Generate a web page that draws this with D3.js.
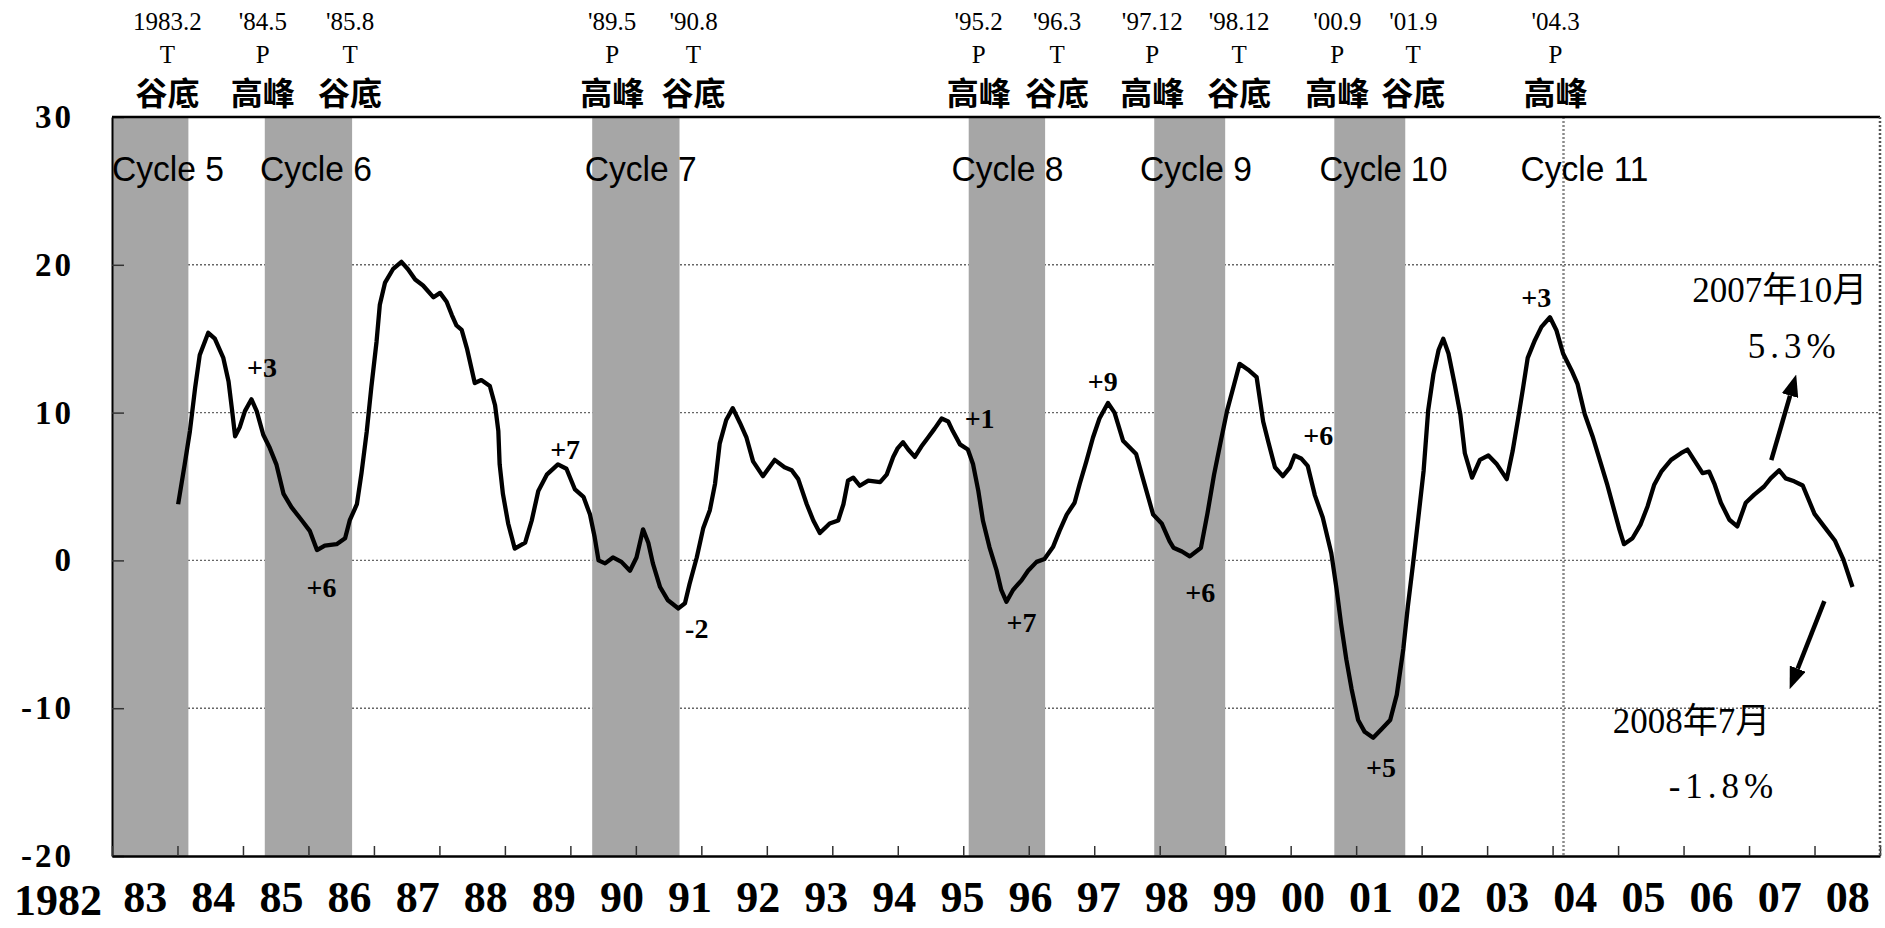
<!DOCTYPE html>
<html>
<head>
<meta charset="utf-8">
<script src="https://cdn.jsdelivr.net/npm/d3@7"></script>
<style>
  body { margin: 0; background: #fff; }
  svg { display: block; }
</style>
</head>
<body>
<svg id="container" width="1885" height="928"></svg>
<script>
'use strict';

// growth rate (%), time in decimal years
const obsTime = [
  1983.01, 1983.11, 1983.19, 1983.27, 1983.34, 1983.47, 1983.57, 1983.70, 1983.78, 1983.83,
  1983.88, 1983.95, 1984.03, 1984.13, 1984.21, 1984.31, 1984.41, 1984.51, 1984.62, 1984.74,
  1984.90, 1985.02, 1985.13, 1985.25, 1985.43, 1985.56, 1985.63, 1985.74, 1985.81, 1985.89,
  1985.96, 1986.04, 1986.09, 1986.17, 1986.29, 1986.42, 1986.52, 1986.63, 1986.75, 1986.91,
  1987.01, 1987.11, 1987.19, 1987.26, 1987.34, 1987.42, 1987.54, 1987.64, 1987.77, 1987.85,
  1987.90, 1987.92, 1987.97, 1988.05, 1988.15, 1988.31, 1988.41, 1988.51, 1988.64, 1988.81,
  1988.94, 1989.07, 1989.20, 1989.30, 1989.37, 1989.43, 1989.53, 1989.65, 1989.78, 1989.91,
  1990.01, 1990.11, 1990.19, 1990.26, 1990.37, 1990.49, 1990.65, 1990.75, 1990.82, 1990.93,
  1991.03, 1991.13, 1991.21, 1991.28, 1991.38, 1991.48, 1991.59, 1991.69, 1991.79, 1991.94,
  1992.12, 1992.27, 1992.38, 1992.48, 1992.61, 1992.71, 1992.81, 1992.96, 1993.09, 1993.17,
  1993.24, 1993.32, 1993.42, 1993.55, 1993.73, 1993.83, 1993.93, 1994.00, 1994.08, 1994.16,
  1994.26, 1994.36, 1994.46, 1994.56, 1994.67, 1994.77, 1994.84, 1994.95, 1995.07, 1995.15,
  1995.23, 1995.30, 1995.40, 1995.51, 1995.58, 1995.66, 1995.76, 1995.89, 1995.99, 1996.12,
  1996.24, 1996.37, 1996.47, 1996.58, 1996.70, 1996.78, 1996.88, 1996.98, 1997.08, 1997.21,
  1997.31, 1997.44, 1997.64, 1997.74, 1997.90, 1998.03, 1998.15, 1998.21, 1998.34, 1998.46,
  1998.63, 1998.73, 1998.83, 1998.93, 1999.03, 1999.13, 1999.22, 1999.35, 1999.48, 1999.58,
  1999.66, 1999.76, 1999.88, 1999.99, 2000.06, 2000.16, 2000.26, 2000.37, 2000.49, 2000.62,
  2000.70, 2000.77, 2000.85, 2000.93, 2001.03, 2001.13, 2001.26, 2001.39, 2001.52, 2001.62,
  2001.72, 2001.79, 2001.87, 2001.95, 2002.03, 2002.10, 2002.18, 2002.26, 2002.33, 2002.41,
  2002.51, 2002.59, 2002.66, 2002.77, 2002.89, 2003.02, 2003.15, 2003.30, 2003.39, 2003.47,
  2003.55, 2003.62, 2003.73, 2003.83, 2003.96, 2004.06, 2004.16, 2004.29, 2004.38, 2004.49,
  2004.61, 2004.72, 2004.83, 2004.94, 2005.02, 2005.09, 2005.22, 2005.34, 2005.45, 2005.55,
  2005.66, 2005.81, 2005.96, 2006.06, 2006.16, 2006.29, 2006.39, 2006.47, 2006.57, 2006.70,
  2006.82, 2006.95, 2007.08, 2007.23, 2007.33, 2007.46, 2007.56, 2007.69, 2007.82, 2008.00,
  2008.18, 2008.31, 2008.44, 2008.58
];
const growth = [
  3.8, 6.5, 8.75, 11.7, 13.9, 15.4, 15.0, 13.7, 12.1, 10.3,
  8.4, 9.0, 10.1, 10.9, 10.1, 8.5, 7.6, 6.5, 4.5, 3.6,
  2.7, 2.0, 0.7, 1.0, 1.1, 1.5, 2.7, 3.8, 5.9, 8.7,
  11.7, 14.8, 17.3, 18.8, 19.7, 20.2, 19.7, 19.0, 18.6, 17.8,
  18.1, 17.5, 16.6, 15.9, 15.6, 14.35, 12.0, 12.2, 11.8, 10.5,
  8.75, 6.5, 4.5, 2.5, 0.8, 1.2, 2.7, 4.7, 5.8, 6.5,
  6.2, 4.8, 4.3, 3.1, 1.6, 0.0, -0.2, 0.2, -0.1, -0.7,
  0.2, 2.1, 1.2, -0.2, -1.8, -2.7, -3.25, -2.9, -1.6, 0.2,
  2.2, 3.4, 5.2, 7.9, 9.5, 10.3, 9.3, 8.3, 6.7, 5.7,
  6.8, 6.3, 6.1, 5.5, 3.8, 2.7, 1.85, 2.5, 2.7, 3.8,
  5.4, 5.6, 5.05, 5.4, 5.3, 5.8, 7.0, 7.6, 8.0, 7.5,
  7.0, 7.7, 8.3, 8.9, 9.6, 9.4, 8.75, 7.85, 7.5, 6.5,
  4.7, 2.7, 0.9, -0.7, -2.0, -2.8, -2.0, -1.35, -0.7, -0.1,
  0.1, 0.9, 2.0, 3.1, 3.9, 5.2, 6.7, 8.3, 9.6, 10.65,
  10.0, 8.1, 7.2, 5.6, 3.1, 2.5, 1.3, 0.86, 0.6, 0.27,
  0.86, 3.2, 5.8, 8.0, 10.15, 11.8, 13.3, 12.9, 12.4, 9.4,
  8.0, 6.3, 5.7, 6.3, 7.1, 6.9, 6.4, 4.4, 2.9, 0.5,
  -1.9, -4.3, -6.7, -8.7, -10.8, -11.6, -12.0, -11.4, -10.8, -9.1,
  -6.0, -3.1, -0.2, 2.9, 6.05, 10.15, 12.6, 14.25, 15.0, 14.0,
  11.8, 9.9, 7.25, 5.6, 6.8, 7.1, 6.5, 5.5, 7.4, 9.5,
  11.7, 13.7, 14.9, 15.8, 16.45, 15.55, 14.0, 12.85, 11.95, 9.9,
  8.4, 6.8, 5.2, 3.4, 2.1, 1.1, 1.5, 2.4, 3.65, 5.1,
  6.0, 6.8, 7.25, 7.5, 6.8, 5.9, 6.0, 5.2, 3.9, 2.75,
  2.3, 3.9, 4.45, 5.0, 5.55, 6.1, 5.55, 5.35, 5.07, 3.15,
  2.1, 1.35, 0.07, -1.8
];

// turning points of the reference cycle
const turnLabels = ['1983.2', '\'84.5', '\'85.8', '\'89.5', '\'90.8', '\'95.2', '\'96.3', '\'97.12', '\'98.12', '\'00.9', '\'01.9', '\'04.3'];
const turnYears = [1983, 1984, 1985, 1989, 1990, 1995, 1996, 1997, 1998, 2000, 2001, 2004];
const turnMonths = [2, 5, 8, 5, 8, 2, 3, 12, 12, 9, 9, 3];
const turnTypes = ['T', 'P', 'T', 'P', 'T', 'P', 'T', 'P', 'T', 'P', 'T', 'P'];
const typeNames = {T: '谷底', P: '高峰'};

// cycle names and where their label starts
const cycleNames = ['Cycle 5', 'Cycle 6', 'Cycle 7', 'Cycle 8', 'Cycle 9', 'Cycle 10', 'Cycle 11'];
const cycleStarts = [1982.0, 1984.26, 1989.22, 1994.82, 1997.70, 2000.44, 2003.51];

// lead (months) written next to the turns of the line
const leadTexts = ['+3', '+6', '+7', '-2', '+1', '+7', '+9', '+6', '+6', '+5', '+3'];
const leadTimes = [1984.29, 1985.20, 1988.92, 1990.93, 1995.25, 1995.89, 1997.13, 1998.62, 2000.42, 2001.38, 2003.75];
const leadValues = [13.05, -1.8, 7.5, -4.6, 9.6, -4.2, 12.1, -2.15, 8.46, -14.0, 17.8];

// callouts at the right end
const noteTexts = ['2007年10月', '5.3%', '2008年7月', '-1.8%'];
const noteTimes = [2007.47, 2007.69, 2006.12, 2006.61];
const noteValues = [18.25, 14.5, -10.9, -15.3];
const arrowTimes = [[2007.34, 2007.72], [2008.15, 2007.62]];
const arrowValues = [[6.78, 12.58], [-2.76, -8.71]];

// axes
const yTicks = [-20, -10, 0, 10, 20, 30];
const gridValues = [-10, 0, 10, 20];
const yearTicks = d3.range(1982, 2010);
const yearLabels = ['1982', '83', '84', '85', '86', '87', '88', '89', '90', '91', '92', '93', '94',
  '95', '96', '97', '98', '99', '00', '01', '02', '03', '04', '05', '06', '07', '08'];

const svg = d3.select('#container');
const width = +svg.attr('width');
const height = +svg.attr('height');
const margin = {top: 117, right: 5, bottom: 72, left: 112};

const x = d3.scaleLinear().domain([1982, 2009]).range([margin.left, width - margin.right]);
const y = d3.scaleLinear().domain([-20, 30]).range([height - margin.bottom, margin.top]);
const [x0, x1] = x.range();
const [y0, y1] = y.range();

const SERIF = '"Liberation Serif", "Times New Roman", serif';
const MINCHO = '"Liberation Serif", "Noto Sans CJK JP", serif';

// peak: start of month, trough: end of month
const turnTime = (i) => turnYears[i] + (turnTypes[i] === 'P' ? turnMonths[i] - 1 : turnMonths[i]) / 12;

// recession bands: peak -> trough (first one from the left edge)
const bands = [];
const openPeaks = [];
let start = x.domain()[0];
turnTypes.forEach((type, i) => {
  if (type === 'P') {
    start = turnTime(i);
    openPeaks.push(i);
  } else {
    bands.push([start, turnTime(i)]);
    openPeaks.pop();
  }
});

// grid
svg.append('g')
  .selectAll('line')
  .data(gridValues)
  .enter()
  .append('line')
  .attr('x1', x0)
  .attr('x2', x1)
  .attr('y1', d => y(d))
  .attr('y2', d => y(d))
  .attr('stroke', '#666')
  .attr('stroke-width', 1.4)
  .attr('stroke-dasharray', '2,2');

// grey bands
svg.append('g')
  .selectAll('rect')
  .data(bands)
  .enter()
  .append('rect')
  .attr('x', d => x(d[0]))
  .attr('width', d => x(d[1]) - x(d[0]))
  .attr('y', y1)
  .attr('height', y0 - y1)
  .attr('fill', '#a6a6a6');

// peak without a trough yet: dotted line
svg.append('g')
  .selectAll('line')
  .data(openPeaks)
  .enter()
  .append('line')
  .attr('x1', i => x(turnTime(i)))
  .attr('x2', i => x(turnTime(i)))
  .attr('y1', y1)
  .attr('y2', y0)
  .attr('stroke', '#8a8a8a')
  .attr('stroke-width', 2.5)
  .attr('stroke-dasharray', '2,2');

// left axis, ticks pointing in
const yAxis = svg.append('g')
  .attr('transform', `translate(${x0},0)`)
  .call(d3.axisLeft(y).tickValues(yTicks).tickSizeInner(-12).tickSizeOuter(0).tickPadding(38).tickFormat(d => String(d)));
yAxis.select('.domain').attr('stroke', '#000').attr('stroke-width', 2);
yAxis.selectAll('.tick line').attr('stroke', '#333').attr('stroke-width', 1.5);
yAxis.selectAll('.tick text')
  .attr('font-family', SERIF)
  .attr('font-weight', 'bold')
  .attr('font-size', 33)
  .attr('letter-spacing', 3)
  .attr('fill', '#000');

// bottom axis: year ticks
const xAxis = svg.append('g')
  .attr('transform', `translate(0,${y0})`)
  .call(d3.axisBottom(x).tickValues(yearTicks).tickSizeInner(-10).tickSizeOuter(0).tickFormat(''));
xAxis.select('.domain').attr('stroke', '#000').attr('stroke-width', 2.5);
xAxis.selectAll('.tick line').attr('stroke', '#333').attr('stroke-width', 1.5);

// year labels (spaced a little wider than the ticks)
const labelScale = d3.scalePoint()
  .domain(yearLabels.slice(1))
  .range([x(1982.5), x(2008.5)]);
const labelAxis = svg.append('g')
  .attr('transform', `translate(0,${height - 47})`)
  .call(d3.axisBottom(labelScale).tickSize(0).tickPadding(0));
labelAxis.select('.domain').remove();
labelAxis.selectAll('.tick text')
  .attr('font-family', SERIF)
  .attr('font-weight', 'bold')
  .attr('font-size', 44)
  .attr('fill', '#000');
svg.append('text')
  .attr('x', x0 - 10)
  .attr('y', height - 13)
  .attr('text-anchor', 'end')
  .attr('font-family', SERIF)
  .attr('font-weight', 'bold')
  .attr('font-size', 44)
  .text(yearLabels[0]);

// frame: top solid, right dotted
svg.append('line')
  .attr('x1', x0).attr('x2', x1).attr('y1', y1).attr('y2', y1)
  .attr('stroke', '#000').attr('stroke-width', 2.5);
svg.append('line')
  .attr('x1', x1).attr('x2', x1).attr('y1', y1).attr('y2', y0)
  .attr('stroke', '#555').attr('stroke-width', 2.5).attr('stroke-dasharray', '2,2');

// the series
const points = obsTime.map((t, i) => ({t, v: growth[i]}));
const line = d3.line()
  .x(d => x(d.t))
  .y(d => y(d.v));
svg.append('path')
  .datum(points)
  .attr('d', line)
  .attr('fill', 'none')
  .attr('stroke', '#000')
  .attr('stroke-width', 4.3)
  .attr('stroke-linejoin', 'round');

// turning point labels above the plot
const turnLabelShift = [-21, -2, -2, 20, 14, 10, 12, -2, 14, 3, 8, -8];
const turns = svg.append('g')
  .selectAll('g')
  .data(turnLabels)
  .enter()
  .append('g')
  .attr('transform', (d, i) => `translate(${x(turnTime(i)) + turnLabelShift[i]},0)`)
  .attr('text-anchor', 'middle');
turns.append('text')
  .attr('y', 30)
  .attr('font-family', SERIF)
  .attr('font-size', 25)
  .text(d => d);
turns.append('text')
  .attr('y', 63)
  .attr('font-family', SERIF)
  .attr('font-size', 25)
  .text((d, i) => turnTypes[i]);
turns.append('text')
  .attr('y', 105)
  .attr('font-family', '"Noto Sans CJK TC", "Noto Sans CJK JP", sans-serif')
  .attr('font-weight', 'bold')
  .attr('font-size', 32)
  .text((d, i) => typeNames[turnTypes[i]]);

// cycle names, narrow tall letters
svg.append('g')
  .selectAll('text')
  .data(cycleNames)
  .enter()
  .append('text')
  .attr('x', (d, i) => x(cycleStarts[i]))
  .attr('y', 181)
  .attr('font-family', '"Liberation Sans", Arial, sans-serif')
  .attr('font-size', 35)
  .attr('textLength', d => d.length * 16)
  .attr('lengthAdjust', 'spacingAndGlyphs')
  .text(d => d);

// lead labels
svg.append('g')
  .selectAll('text')
  .data(leadTexts)
  .enter()
  .append('text')
  .attr('x', (d, i) => x(leadTimes[i]))
  .attr('y', (d, i) => y(leadValues[i]))
  .attr('text-anchor', 'middle')
  .attr('dominant-baseline', 'central')
  .attr('font-family', SERIF)
  .attr('font-weight', 'bold')
  .attr('font-size', 28)
  .text(d => d);

// callouts
svg.append('g')
  .selectAll('text')
  .data(noteTexts)
  .enter()
  .append('text')
  .attr('x', (d, i) => x(noteTimes[i]))
  .attr('y', (d, i) => y(noteValues[i]))
  .attr('text-anchor', 'middle')
  .attr('dominant-baseline', 'central')
  .attr('font-family', MINCHO)
  .attr('font-size', 35)
  .attr('letter-spacing', (d, i) => (i % 2 ? 5 : 0))
  .text(d => d);

// arrows
const HEAD = 22;
svg.append('defs')
  .append('marker')
  .attr('id', 'head')
  .attr('viewBox', '0 0 10 10')
  .attr('refX', 0)
  .attr('refY', 5)
  .attr('markerUnits', 'userSpaceOnUse')
  .attr('markerWidth', HEAD)
  .attr('markerHeight', 17)
  .attr('preserveAspectRatio', 'none')
  .attr('orient', 'auto')
  .append('path')
  .attr('d', 'M0,0L10,5L0,10z')
  .attr('fill', '#000');

svg.append('g')
  .selectAll('line')
  .data(arrowTimes)
  .enter()
  .append('line')
  .each(function (d, i) {
    const ax = x(d[0]), ay = y(arrowValues[i][0]);
    const bx = x(d[1]), by = y(arrowValues[i][1]);
    const len = Math.hypot(bx - ax, by - ay);
    d3.select(this)
      .attr('x1', ax)
      .attr('y1', ay)
      .attr('x2', bx - (bx - ax) / len * HEAD)
      .attr('y2', by - (by - ay) / len * HEAD);
  })
  .attr('stroke', '#000')
  .attr('stroke-width', 4.5)
  .attr('marker-end', 'url(#head)');
</script>
</body>
</html>
